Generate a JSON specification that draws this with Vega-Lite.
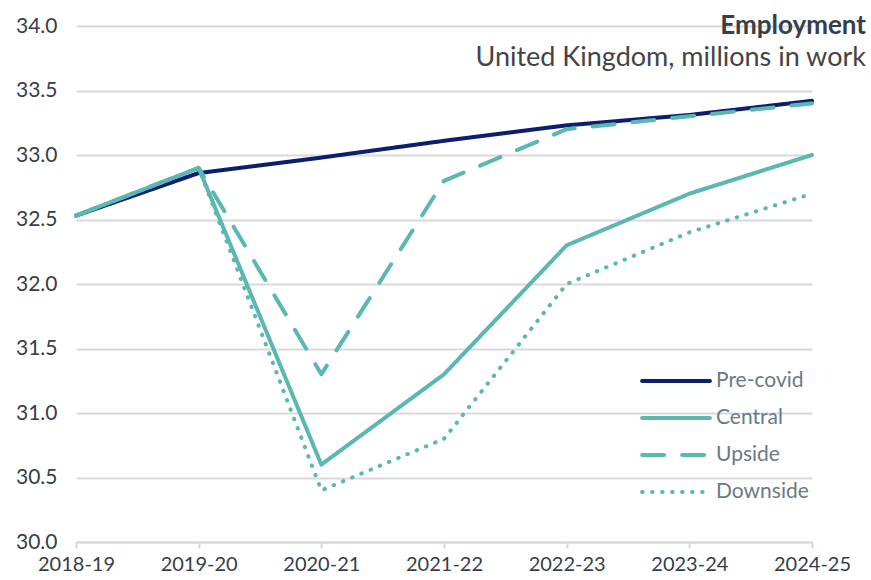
{
  "$schema": "https://vega.github.io/schema/vega-lite/v6.json",
  "width": 736,
  "height": 516,
  "autosize": {"type": "none"},
  "padding": {"left": 76, "top": 26, "right": 59, "bottom": 38},
  "background": "white",
  "config": {
    "font": "Lato",
    "view": {"stroke": null}
  },
  "title": {
    "text": "Employment",
    "subtitle": "United Kingdom, millions in work",
    "anchor": "end",
    "frame": "group",
    "dx": 54,
    "offset": -56,
    "fontSize": 26,
    "fontWeight": "bold",
    "color": "#353e49",
    "subtitleFontSize": 27,
    "subtitleColor": "#444444",
    "subtitlePadding": 6,
    "font": "Lato",
    "subtitleFont": "Lato"
  },
  "data": {
    "values": [
      {"year": "2018-19", "series": "Pre-covid", "value": 32.53},
      {"year": "2019-20", "series": "Pre-covid", "value": 32.86},
      {"year": "2020-21", "series": "Pre-covid", "value": 32.98},
      {"year": "2021-22", "series": "Pre-covid", "value": 33.11},
      {"year": "2022-23", "series": "Pre-covid", "value": 33.23},
      {"year": "2023-24", "series": "Pre-covid", "value": 33.31},
      {"year": "2024-25", "series": "Pre-covid", "value": 33.42},
      {"year": "2018-19", "series": "Central", "value": 32.53},
      {"year": "2019-20", "series": "Central", "value": 32.9},
      {"year": "2020-21", "series": "Central", "value": 30.6},
      {"year": "2021-22", "series": "Central", "value": 31.3},
      {"year": "2022-23", "series": "Central", "value": 32.3},
      {"year": "2023-24", "series": "Central", "value": 32.7},
      {"year": "2024-25", "series": "Central", "value": 33.0},
      {"year": "2018-19", "series": "Upside", "value": 32.53},
      {"year": "2019-20", "series": "Upside", "value": 32.9},
      {"year": "2020-21", "series": "Upside", "value": 31.3},
      {"year": "2021-22", "series": "Upside", "value": 32.8},
      {"year": "2022-23", "series": "Upside", "value": 33.2},
      {"year": "2023-24", "series": "Upside", "value": 33.3},
      {"year": "2024-25", "series": "Upside", "value": 33.4},
      {"year": "2018-19", "series": "Downside", "value": 32.53},
      {"year": "2019-20", "series": "Downside", "value": 32.9},
      {"year": "2020-21", "series": "Downside", "value": 30.4},
      {"year": "2021-22", "series": "Downside", "value": 30.8},
      {"year": "2022-23", "series": "Downside", "value": 32.0},
      {"year": "2023-24", "series": "Downside", "value": 32.4},
      {"year": "2024-25", "series": "Downside", "value": 32.7}
    ]
  },
  "mark": {"type": "line", "strokeWidth": 4, "strokeCap": "round", "strokeJoin": "round"},
  "encoding": {
    "x": {
      "field": "year",
      "type": "ordinal",
      "scale": {"type": "point", "padding": 0},
      "axis": {
        "title": null,
        "labelAngle": 0,
        "labelFontSize": 20,
        "labelColor": "#353e49",
        "labelPadding": 6,
        "domainColor": "#d9d9d9",
        "domainWidth": 2,
        "tickColor": "#d9d9d9",
        "tickWidth": 2,
        "tickSize": 6,
        "grid": false
      }
    },
    "y": {
      "field": "value",
      "type": "quantitative",
      "scale": {"domain": [30, 34], "zero": false},
      "axis": {
        "title": null,
        "values": [30, 30.5, 31, 31.5, 32, 32.5, 33, 33.5, 34],
        "format": ".1f",
        "labelFontSize": 21,
        "labelColor": "#353e49",
        "labelPadding": 19,
        "domain": false,
        "ticks": false,
        "grid": true,
        "gridColor": "#d9d9d9",
        "gridWidth": 2
      }
    },
    "color": {
      "field": "series",
      "type": "nominal",
      "sort": ["Pre-covid", "Central", "Upside", "Downside"],
      "scale": {
        "domain": ["Pre-covid", "Central", "Upside", "Downside"],
        "range": ["#0c1e6e", "#5bb8b1", "#5bb8b1", "#5bb8b1"]
      },
      "legend": {
        "title": null,
        "orient": "none",
        "legendX": 564,
        "legendY": 344,
        "symbolType": "stroke",
        "symbolSize": 4600,
        "symbolStrokeWidth": 4,
        "clipHeight": 22,
        "rowPadding": 15,
        "labelFontSize": 21,
        "labelColor": "#6b7a84",
        "labelOffset": 4,
        "encode": {
          "symbols": {"update": {"strokeCap": {"value": "round"}}}
        }
      }
    },
    "strokeDash": {
      "field": "series",
      "type": "nominal",
      "sort": ["Pre-covid", "Central", "Upside", "Downside"],
      "scale": {
        "domain": ["Pre-covid", "Central", "Upside", "Downside"],
        "range": [[1, 0], [1, 0], [22, 18], [0.5, 9.5]]
      }
    }
  }
}
